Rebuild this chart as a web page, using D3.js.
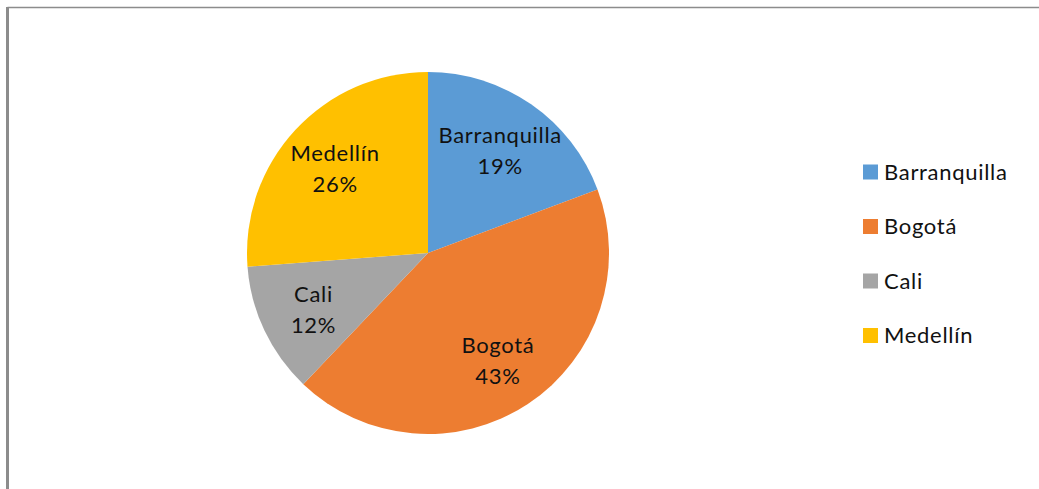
<!DOCTYPE html>
<html>
<head>
<meta charset="utf-8">
<script src="https://cdn.jsdelivr.net/npm/d3@7"></script>
<style>
  html, body { margin: 0; padding: 0; background: #fff; }
  svg { display: block; }
  text { font-family: Lato, "Open Sans", sans-serif; fill: #111; letter-spacing: 0.7px; }
</style>
</head>
<body>
<script>
// city shares
const cities = ["Barranquilla", "Bogotá", "Cali", "Medellín"];
const shares = [19.3, 42.8, 11.7, 26.2];
const colors = ["#5B9BD5", "#ED7D31", "#A5A5A5", "#FFC000"];

const width = 1039, height = 489;
const cx = 428, cy = 253, radius = 181;
const fontSize = 22;

const data = cities.map((c, i) => ({ city: c, value: shares[i], color: colors[i] }));
const total = d3.sum(shares);

const svg = d3.select("body").append("svg")
  .attr("width", width)
  .attr("height", height);

svg.append("rect").attr("width", width).attr("height", height).attr("fill", "#fff");

// chart frame (only top and left edges show)
svg.append("line").attr("x1", 7.5).attr("x2", width).attr("y1", 7.5).attr("y2", 7.5)
  .attr("stroke", "#8c8c8c").attr("stroke-width", 1.5);
svg.append("line").attr("x1", 7.5).attr("x2", 7.5).attr("y1", 7).attr("y2", height)
  .attr("stroke", "#8c8c8c").attr("stroke-width", 3);

const pie = d3.pie().value(d => d.value).sort(null);
const arc = d3.arc().innerRadius(0).outerRadius(radius);
const labelArc = d3.arc().innerRadius(radius * 0.7).outerRadius(radius * 0.7);

const g = svg.append("g").attr("transform", `translate(${cx},${cy})`);
const arcs = pie(data);

g.selectAll("path")
  .data(arcs)
  .enter()
  .append("path")
  .attr("d", arc)
  .attr("fill", d => d.data.color);

const labels = g.selectAll("text.lbl")
  .data(arcs)
  .enter()
  .append("text")
  .attr("class", "lbl")
  .attr("text-anchor", "middle")
  .attr("font-size", fontSize)
  .attr("transform", d => `translate(${labelArc.centroid(d)})`);

labels.append("tspan").attr("x", 0).attr("dy", "-0.25em").text(d => d.data.city);
labels.append("tspan").attr("x", 0).attr("dy", "1.4em")
  .text(d => Math.round(d.data.value / total * 100) + "%");

// legend
const legend = svg.append("g").attr("transform", "translate(863,172)");
const rows = legend.selectAll("g")
  .data(data)
  .enter()
  .append("g")
  .attr("transform", (d, i) => `translate(0,${i * 54.5})`);

rows.append("rect")
  .attr("x", 0).attr("y", -7.5)
  .attr("width", 15).attr("height", 15)
  .attr("fill", d => d.color);

rows.append("text")
  .attr("x", 21)
  .attr("y", 0)
  .attr("dy", "0.36em")
  .attr("font-size", fontSize)
  .text(d => d.city);
</script>
</body>
</html>
